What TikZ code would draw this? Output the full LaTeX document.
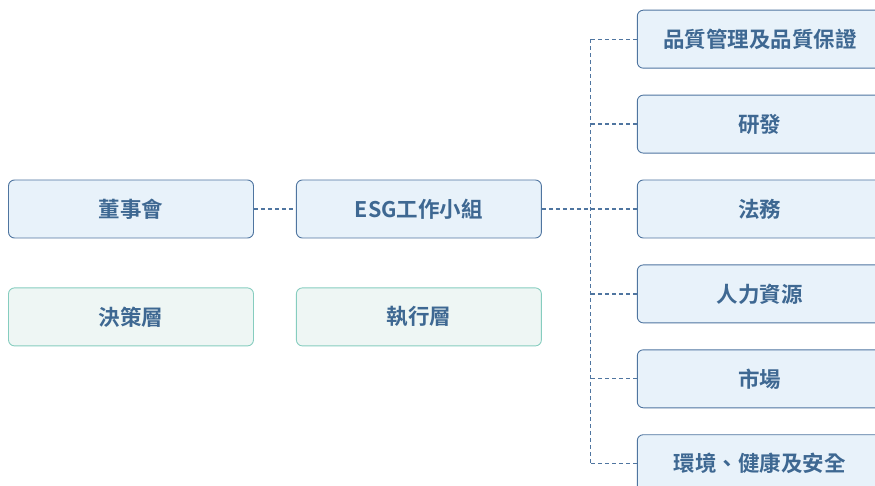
\documentclass[tikz,border=0pt]{standalone}
\usepackage{fontspec}
\newfontfamily\cjk{Noto Sans CJK TC}[BoldFont={Noto Sans CJK TC Bold}]
\usetikzlibrary{positioning,calc}
\definecolor{boxblue}{HTML}{E8F2FA}
\definecolor{edgeblue}{HTML}{4F75A0}
\definecolor{boxgreen}{HTML}{EEF6F4}
\definecolor{edgegreen}{HTML}{86CDBF}
\definecolor{textblue}{HTML}{3E6892}

\begin{document}
\begin{tikzpicture}[x=1pt, y=1pt, node distance=26pt]
\tikzstyle{unit} = [rectangle, draw=edgeblue, fill=boxblue, line width=0.9pt, rounded corners=6pt, minimum width=245pt, minimum height=58pt, inner sep=0pt, text=textblue, font=\cjk\bfseries\fontsize{21.5}{25}\selectfont]
\tikzstyle{layer} = [unit, draw=edgegreen, fill=boxgreen]
\tikzstyle{link} = [draw=edgeblue, line width=1.2pt, dash pattern=on 4pt off 3pt]

\useasboundingbox (0,0) rectangle (875,-486);

% Decision and execution blocks
\node [unit] (board) at (131,-209) {董事會};
\node [unit, right=42pt of board] (esgTeam) {ESG工作小組};
\node [layer, below=49pt of board] (decision) {決策層};
\node [layer, below=49pt of esgTeam] (execution) {執行層};

% Departments
\node [unit, right=95pt of esgTeam] (dept3) {法務};
\node [unit, above=of dept3] (dept2) {研發};
\node [unit, above=of dept2] (dept1) {品質管理及品質保證};
\node [unit, below=of dept3] (dept4) {人力資源};
\node [unit, below=of dept4] (dept5) {市場};
\node [unit, below=of dept5] (dept6) {環境、健康及安全};

% Connections
\coordinate (busTop) at ([xshift=-46pt]dept1.west);
\coordinate (busBottom) at ([xshift=-46pt]dept6.west);
\draw [link] (board) -- (esgTeam);
\draw [link] (esgTeam) -- (dept3);
\draw [link] (busTop) -- (busBottom);
\foreach \i in {1,2,4,5,6}
  \draw [link] (dept\i.west) -- (busTop |- dept\i.west);

\end{tikzpicture}
\end{document}
